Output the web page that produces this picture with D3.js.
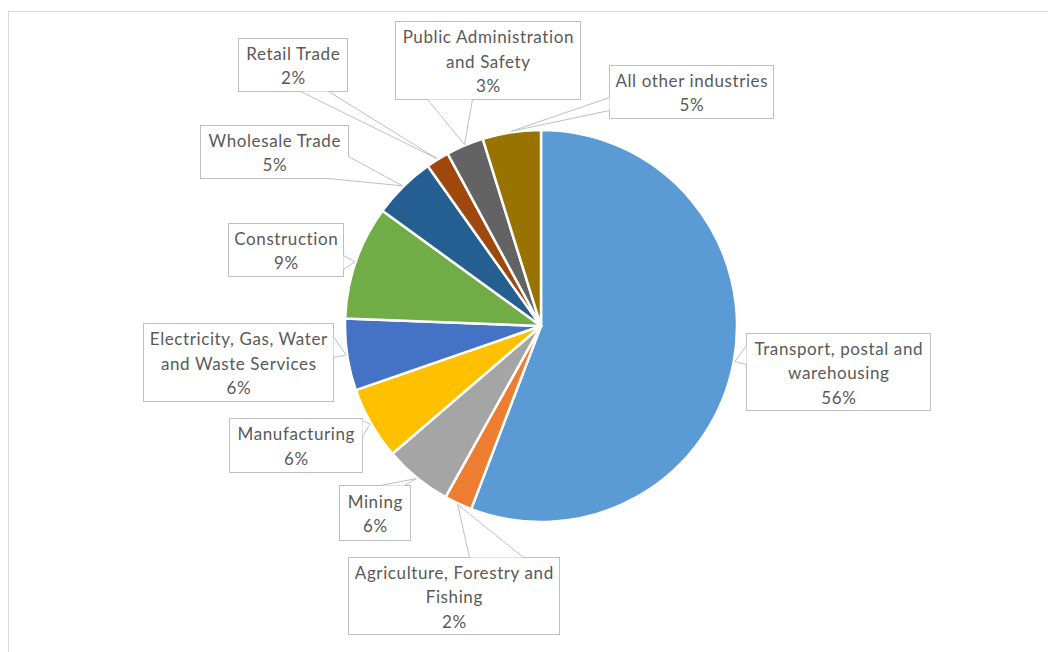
<!DOCTYPE html>
<html>
<head>
<meta charset="utf-8">
<script src="https://cdn.jsdelivr.net/npm/d3@7"></script>
<style>
  html, body { margin: 0; padding: 0; background: #fff; }
  svg { display: block; }
</style>
</head>
<body>
<svg id="chart" width="1048" height="652"></svg>
<script>
// ---- data (clockwise from 12 o'clock) ----
const categories = [
  "Transport, postal and\nwarehousing",
  "Agriculture, Forestry and\nFishing",
  "Mining",
  "Manufacturing",
  "Electricity, Gas, Water\nand Waste Services",
  "Construction",
  "Wholesale Trade",
  "Retail Trade",
  "Public Administration\nand Safety",
  "All other industries"
];
const values = [55.8, 2.3, 5.6, 6.0, 5.9, 9.4, 5.2, 1.9, 3.1, 4.8];
const colors = ["#5B9BD5", "#ED7D31", "#A5A5A5", "#FFC000", "#4472C4",
                "#70AD47", "#255E91", "#9E480E", "#636363", "#997300"];

// ---- layout (label boxes and callout tail bases) ----
const labelBoxes = [
  [746, 333, 930, 410],
  [348, 557, 559, 634],
  [339, 485, 410, 540],
  [229, 418, 362, 472],
  [143, 323, 333, 401],
  [228, 223, 343, 276],
  [200, 125, 348, 178],
  [238, 38, 347, 91],
  [395, 21, 580, 99],
  [609, 65, 773, 118]
];
const tailBases = [
  [746, 345, 746, 364],
  [469, 557, 523, 557],
  [380, 485, 404, 485],
  [362, 420, 362, 436],
  [333, 336, 333, 357],
  [343, 255, 343, 269],
  [348, 156, 327, 178],
  [300, 91, 328, 91],
  [427, 99, 472, 99],
  [609, 97, 609, 110]
];

const W = 1048, H = 652;
const cx = 541, cy = 326, R = 196;
const svg = d3.select("#chart");

// chart area border
svg.append("rect")
  .attr("x", 8.5).attr("y", 11.5)
  .attr("width", 1100).attr("height", 700)
  .attr("fill", "#fff").attr("stroke", "#d9d9d9").attr("stroke-width", 1);

const pie = d3.pie().sort(null).value(d => d).startAngle(0).endAngle(2 * Math.PI);
const arcs = pie(values);
const arc = d3.arc().innerRadius(0).outerRadius(R);

const g = svg.append("g").attr("transform", `translate(${cx},${cy})`);
g.selectAll("path.slice")
  .data(arcs)
  .join("path")
  .attr("class", "slice")
  .attr("d", arc)
  .attr("fill", (d, i) => colors[i])
  .attr("stroke", "#fff")
  .attr("stroke-width", 2.5)
  .attr("stroke-linejoin", "round");

const total = d3.sum(values);
const fmt = v => Math.round(v / total * 100) + "%";
const ls = 0.6;

const labels = svg.append("g");
arcs.forEach((d, i) => {
  const [x0, y0, x1, y1] = labelBoxes[i];
  const [ax, ay, bx, by] = tailBases[i];
  const mid = (d.startAngle + d.endAngle) / 2;
  const tr = R + 1;
  const tx = cx + tr * Math.sin(mid), ty = cy - tr * Math.cos(mid);

  const lg = labels.append("g");
  lg.append("rect")
    .attr("x", x0 + 0.5).attr("y", y0 + 0.5)
    .attr("width", x1 - x0).attr("height", y1 - y0)
    .attr("fill", "#fff").attr("stroke", "#bfbfbf").attr("stroke-width", 1);
  // cover box edge under the tail base
  lg.append("path")
    .attr("d", `M${ax + 0.5},${ay + 0.5}L${tx},${ty}L${bx + 0.5},${by + 0.5}Z`)
    .attr("fill", "#fff").attr("stroke", "none");
  lg.append("path")
    .attr("d", `M${ax + 0.5},${ay + 0.5}L${tx},${ty}L${bx + 0.5},${by + 0.5}`)
    .attr("fill", "none").attr("stroke", "#bfbfbf").attr("stroke-width", 1);

  const lines = categories[i].split("\n").concat([fmt(values[i])]);
  const n = lines.length;
  const lh = 24.5;
  const mcx = (x0 + x1) / 2 + 0.5 + ls / 2, mcy = (y0 + y1) / 2 + 1;
  lines.forEach((t, k) => {
    lg.append("text")
      .attr("x", mcx)
      .attr("y", mcy + (k - (n - 1) / 2) * lh)
      .attr("text-anchor", "middle")
      .attr("dominant-baseline", "central")
      .attr("font-family", "Lato, 'Open Sans', sans-serif")
      .attr("font-size", 17)
      .attr("letter-spacing", ls)
      .attr("fill", "#595959")
      .text(t);
  });
});
</script>
</body>
</html>
